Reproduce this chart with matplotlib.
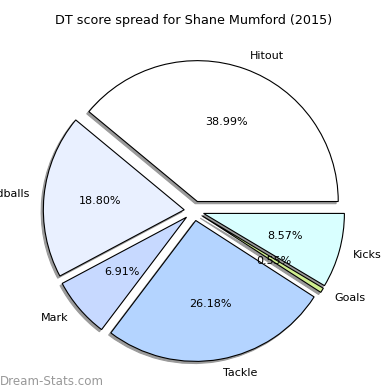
import matplotlib
import matplotlib.pyplot as plt

matplotlib.use('agg')

# Данные по категориям
labels = ['Hitout', 'Handballs', 'Mark', 'Tackle', 'Goals', 'Kicks']
values = [38.99, 18.80, 6.91, 26.18, 0.55, 8.57]
colors = ['#ffffff', '#e9f0ff', '#c7d9ff', '#b4d4ff', '#cfee8f', '#d9ffff']
explode = [0.07] * len(values)

fig = plt.figure(figsize=(3.9, 3.9), dpi=100)
ax = fig.add_axes([0.046, 0.008, 0.903, 0.903])

# Тень: тонкая и светло-серая
shadow = {'ox': -0.011, 'oy': -0.011, 'facecolor': '#9a9a9a',
          'edgecolor': '#9a9a9a', 'alpha': 1.0}

ax.pie(values, labels=labels, colors=colors, explode=explode,
       autopct='%1.2f%%', shadow=shadow, startangle=0,
       wedgeprops={'edgecolor': 'black', 'linewidth': 0.8},
       textprops={'fontsize': 8})
ax.set_aspect('equal')
ax.set_title('DT score spread for Shane Mumford (2015)', fontsize=9.2, pad=8)

# Водяной знак
fig.text(0.0, 0.014, 'Dream-Stats.com', fontsize=8.6, color='#999999')

fig.savefig('out.png', dpi=100)
